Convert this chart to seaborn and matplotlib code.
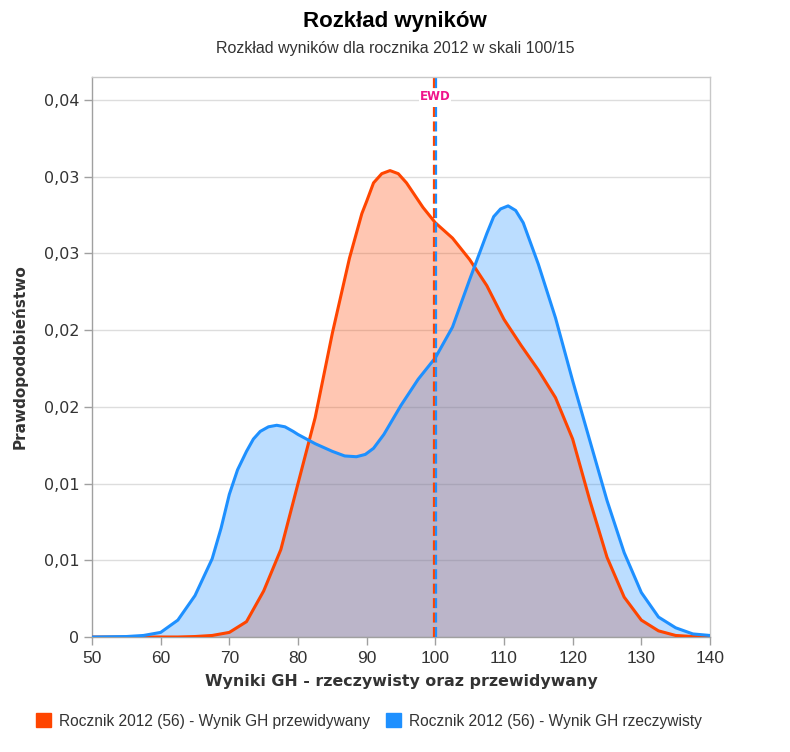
import pandas as pd
import seaborn as sns
import matplotlib.pyplot as plt
from matplotlib.ticker import FixedLocator, FuncFormatter

"""
Data read off the chart
"""
pred_scores = [50, 55, 60, 62.5, 65, 67.5, 70, 72.5, 75, 77.5, 80, 82.5, 85, 87.5, 89.3,
               90, 91, 92.2, 93.4, 94.6, 95.8, 97, 98.2, 100, 102.5, 105, 107.5, 110,
               112.5, 115, 117.5, 120, 122.5, 125, 127.5, 130, 132.5, 135, 137.5, 140]
pred_density = [0.0, 0.0, 0.0, 0.0, 0.00003, 0.0001, 0.0003, 0.001, 0.003, 0.0057, 0.0100,
                0.0143, 0.0198, 0.0247, 0.0276, 0.0284, 0.0296, 0.0302, 0.0304, 0.0302,
                0.0296, 0.0288, 0.0280, 0.0270, 0.0260, 0.0246, 0.0229, 0.0207, 0.0190,
                0.0174, 0.0156, 0.0129, 0.0089, 0.0052, 0.0026, 0.0011, 0.0004, 0.0001,
                0.00003, 0.0]

real_scores = [50, 55, 57.5, 60, 62.5, 65, 67.5, 68.8, 70, 71.2, 72.5, 73.5, 74.5, 75.7,
               76.9, 78.1, 79.3, 80, 82.5, 85, 86.8, 88.5, 89.8, 91, 92.5, 95, 97.5, 100,
               102.5, 105, 107.5, 108.5, 109.5, 110.6, 111.7, 112.8, 115, 117.5, 120,
               122.5, 125, 127.5, 130, 132.5, 135, 137.5, 140]
real_density = [0.0, 0.00003, 0.0001, 0.0003, 0.0011, 0.0027, 0.0051, 0.0071, 0.0093,
                0.0109, 0.0121, 0.0129, 0.0134, 0.0137, 0.0138, 0.0137, 0.0134, 0.0132,
                0.0126, 0.0121, 0.0118, 0.01175, 0.0119, 0.0123, 0.0132, 0.0151, 0.0168,
                0.0182, 0.0202, 0.0233, 0.0263, 0.0274, 0.0279, 0.0281, 0.0278, 0.0270,
                0.0243, 0.0208, 0.0167, 0.0128, 0.0089, 0.0055, 0.0029, 0.0013, 0.0006,
                0.0002, 0.0001]

series_names = ["Rocznik 2012 (56) - Wynik GH przewidywany",
                "Rocznik 2012 (56) - Wynik GH rzeczywisty"]
colors = ["#ff4500", "#1e90ff"]

ewd = 100
x_ticks = list(range(50, 141, 10))
y_ticks = [0, 0.005, 0.01, 0.015, 0.02, 0.025, 0.03, 0.035]

df = pd.concat([
    pd.DataFrame({"score": pred_scores, "density": pred_density, "series": series_names[0]}),
    pd.DataFrame({"score": real_scores, "density": real_density, "series": series_names[1]}),
])

"""
Plot
"""
sns.set_style("white")
plt.rcParams['font.family'] = ['DejaVu Sans']

fig = plt.figure(figsize=(7.9, 7.52), dpi=100)
ax = fig.add_axes([92 / 790, 115 / 752, 618 / 790, 560 / 752])

for col, xs, ys in zip(colors, [pred_scores, real_scores], [pred_density, real_density]):
    ax.fill_between(xs, ys, color=col, alpha=0.3, linewidth=0, zorder=2)

sns.lineplot(data=df, x="score", y="density", hue="series", palette=colors,
             linewidth=2.2, ax=ax, legend=False, zorder=3, sort=True)

# EWD line, two-coloured dashes
ax.axvline(ewd - 0.14, color=colors[0], linewidth=1.6, dashes=(4.5, 2), zorder=4)
ax.axvline(ewd + 0.14, color=colors[1], linewidth=1.6, dashes=(4.5, 2), zorder=4)
ax.text(ewd, 0.03525, "EWD", color="#f0148c", fontsize=8.5, fontweight="bold",
        ha="center", va="center", zorder=5,
        bbox=dict(facecolor="white", edgecolor="none", pad=0.3))

ax.set_xlim(50, 140)
ax.set_ylim(0, 0.0365)
ax.xaxis.set_major_locator(FixedLocator(x_ticks))
ax.yaxis.set_major_locator(FixedLocator(y_ticks))
ax.yaxis.set_major_formatter(FuncFormatter(
    lambda v, p: "0" if v == 0 else ("%.2f" % (v + 1e-9)).replace(".", ",")))
ax.grid(axis="y", color="#dddddd", linewidth=1, zorder=0)
ax.set_axisbelow(True)

for s in ax.spines.values():
    s.set_color("#c8c8c8")
    s.set_linewidth(1)
ax.spines["left"].set_color("#a0a0a0")
ax.spines["bottom"].set_color("#a0a0a0")

ax.tick_params(axis="both", which="major", length=6, width=1, color="#a0a0a0",
               labelcolor="#333333", bottom=True, left=True)
ax.tick_params(axis="x", pad=4)
ax.tick_params(axis="y", labelsize=11.5, pad=3)
for lab in ax.get_xticklabels():
    lab.set_family(["Liberation Sans", "DejaVu Sans"])
    lab.set_fontsize(12.5)

ax.set_xlabel("Wyniki GH - rzeczywisty oraz przewidywany", fontsize=11.4,
              fontweight="bold", color="#333333", labelpad=6)
ax.set_ylabel("Prawdopodobieństwo", fontsize=11, fontweight="bold",
              color="#333333", labelpad=12)

fig.text(0.5, 1 - 21 / 752, "Rozkład wyników", ha="center", va="center",
         fontsize=16, fontweight="bold", color="black",
         family=["Liberation Sans", "DejaVu Sans"])
fig.text(0.5, 1 - 48 / 752, "Rozkład wyników dla rocznika 2012 w skali 100/15",
         ha="center", va="center", fontsize=11.5, color="#333333",
         family=["Liberation Sans", "DejaVu Sans"])

handles = [plt.Rectangle((0, 0), 1, 1, color=c) for c in colors]
leg = fig.legend(handles, series_names, loc="center", ncol=2,
                 bbox_to_anchor=(0.467, 1 - 721 / 752), frameon=False,
                 handlelength=1.0, handleheight=1.0, handletextpad=0.5,
                 columnspacing=1.0, prop={"family": ["Liberation Sans", "DejaVu Sans"],
                                          "size": 11.2})
for t in leg.get_texts():
    t.set_color("#333333")

plt.savefig("out.png", dpi=100)
